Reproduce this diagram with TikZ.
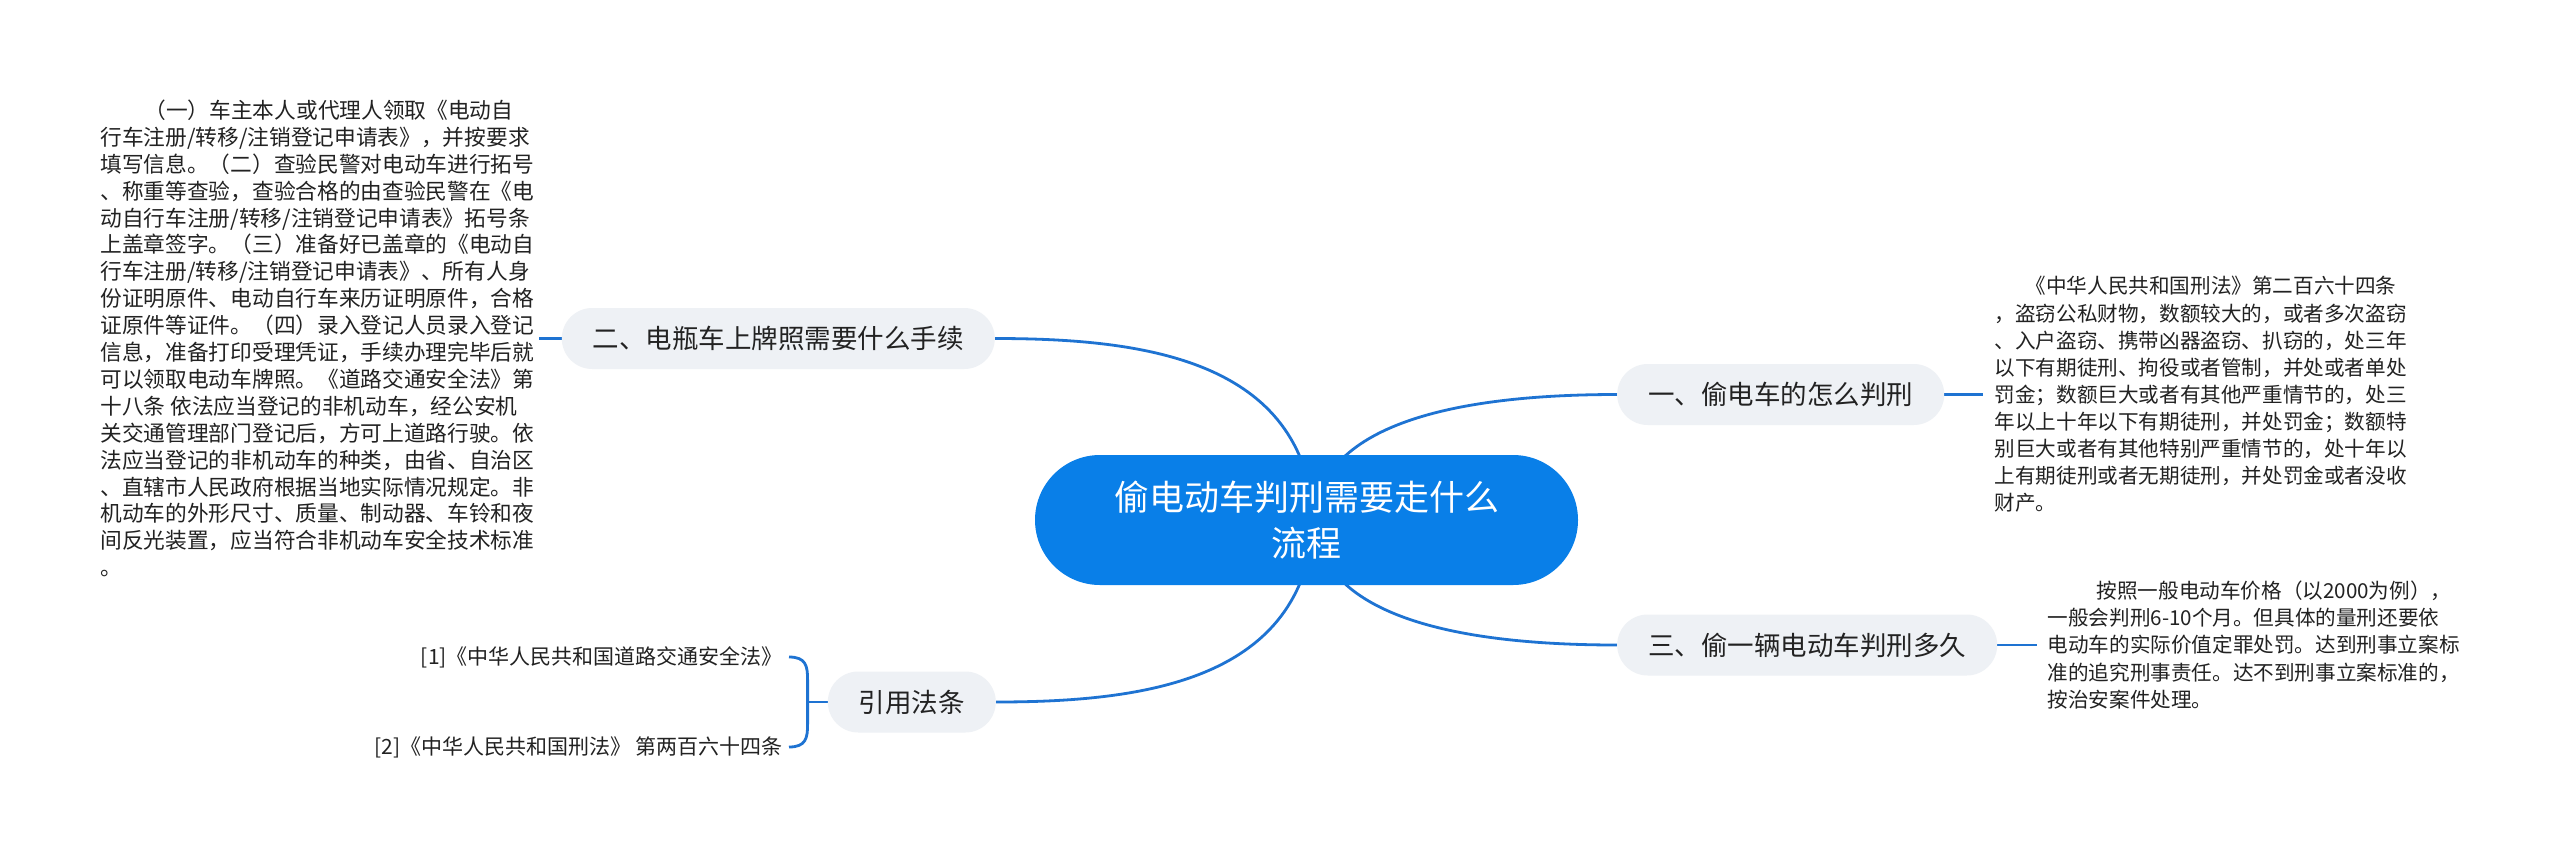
\documentclass[tikz,border=0pt]{standalone}
\usepackage{fontspec}
\setmainfont{Noto Sans CJK SC}
\usetikzlibrary{backgrounds,calc}
\definecolor{cblue}{RGB}{9,127,232}
\definecolor{lblue}{RGB}{30,115,210}
\definecolor{pillgray}{RGB}{238,241,245}
\definecolor{inkc}{RGB}{34,34,34}
\begin{document}
\begin{tikzpicture}[x=1pt,y=-1pt,
  centernode/.style={fill=cblue, text=white, rounded corners=65pt, minimum width=543pt, minimum height=130pt, align=center, inner sep=0pt, font=\fontsize{35}{46}\selectfont},
  branch/.style={fill=pillgray, text=inkc, rounded corners=30.5pt, minimum height=61pt, inner xsep=31pt, inner ysep=0pt, font=\fontsize{26.5}{32}\selectfont},
  body/.style={text=inkc, align=left, inner ysep=0pt, font=\fontsize{20.6}{27.1}\selectfont},
  bodywide/.style={text=inkc, align=left, inner ysep=0pt, font=\fontsize{21.7}{26.9}\selectfont},
  cite/.style={text=inkc, inner sep=0pt, font=\fontsize{21}{26}\selectfont},
  conn/.style={draw=lblue, line width=2.8pt}
]
\useasboundingbox (0,0) rectangle (2560,860);

\node[centernode] (c) at (1306.5,520) {偷电动车判刑需要走什么\\流程};
\node[branch, anchor=east] (b2) at (995,338.5) {二、电瓶车上牌照需要什么手续};
\node[branch, anchor=west] (b1) at (1617,394.5) {一、偷电车的怎么判刑};
\node[branch, anchor=west] (b3) at (1617,645) {三、偷一辆电动车判刑多久};
\node[branch, anchor=east] (b4) at (996,702) {引用法条};

\node[bodywide, anchor=east, inner xsep=4pt] (t0) at ([xshift=-23pt]b2.west) {%
\hspace*{44pt}（一）车主本人或代理人领取《电动自\\
行车注册/转移/注销登记申请表》，并按要求\\
填写信息。（二）查验民警对电动车进行拓号\\
、称重等查验，查验合格的由查验民警在《电\\
动自行车注册/转移/注销登记申请表》拓号条\\
上盖章签字。（三）准备好已盖章的《电动自\\
行车注册/转移/注销登记申请表》、所有人身\\
份证明原件、电动自行车来历证明原件，合格\\
证原件等证件。（四）录入登记人员录入登记\\
信息，准备打印受理凭证，手续办理完毕后就\\
可以领取电动车牌照。《道路交通安全法》第\\
十八条 依法应当登记的非机动车，经公安机\\
关交通管理部门登记后，方可上道路行驶。依\\
法应当登记的非机动车的种类，由省、自治区\\
、直辖市人民政府根据当地实际情况规定。非\\
机动车的外形尺寸、质量、制动器、车铃和夜\\
间反光装置，应当符合非机动车安全技术标准\\
。};

\node[body, anchor=west, inner xsep=11pt] (t1) at ([xshift=39pt]b1.east) {%
\hspace*{31pt}《中华人民共和国刑法》第二百六十四条\\
，盗窃公私财物，数额较大的，或者多次盗窃\\
、入户盗窃、携带凶器盗窃、扒窃的，处三年\\
以下有期徒刑、拘役或者管制，并处或者单处\\
罚金；数额巨大或者有其他严重情节的，处三\\
年以上十年以下有期徒刑，并处罚金；数额特\\
别巨大或者有其他特别严重情节的，处十年以\\
上有期徒刑或者无期徒刑，并处罚金或者没收\\
财产。};

\node[body, anchor=west, inner xsep=10pt] (t2) at ([xshift=40pt]b3.east) {%
\hspace*{49pt}按照一般电动车价格（以2000为例），\\
一般会判刑6-10个月。但具体的量刑还要依\\
电动车的实际价值定罪处罚。达到刑事立案标\\
准的追究刑事责任。达不到刑事立案标准的，\\
按治安案件处理。};

\node[cite, anchor=east] (c1) at (783,657) {[1]《中华人民共和国道路交通安全法》};
\node[cite, anchor=east] (c2) at (783,747) {[2]《中华人民共和国刑法》 第两百六十四条};

\coordinate (o) at ([xshift=7.5pt]c.center);
\coordinate (k) at ([xshift=-20pt]b4.west);

\begin{scope}[on background layer]
\fill[white] (0,0) rectangle (2560,860);
\draw[conn] (o) .. controls +(-10,-160) and +(150,0) .. (b2.east);
\draw[conn] (o) .. controls +(-10,160) and +(150,0) .. (b4.east);
\draw[conn] (o) .. controls +(6,-100) and +(-150,0) .. (b1.west);
\draw[conn] (o) .. controls +(6,100) and +(-150,0) .. (b3.west);
\draw[conn] (b2.west) -- (t0.east);
\draw[conn] (b1.east) -- (t1.west);
\draw[conn] (b3.east) -- (t2.west);
\draw[conn] (b4.west) -- (k);
\draw[conn] ([xshift=6pt]c1.east) .. controls +(17,0) and +(0,-14) .. ($(k)+(0,-22)$) -- ($(k)+(0,22)$) .. controls +(0,14) and +(17,0) .. ([xshift=6pt]c2.east);
\end{scope}
\end{tikzpicture}
\end{document}
